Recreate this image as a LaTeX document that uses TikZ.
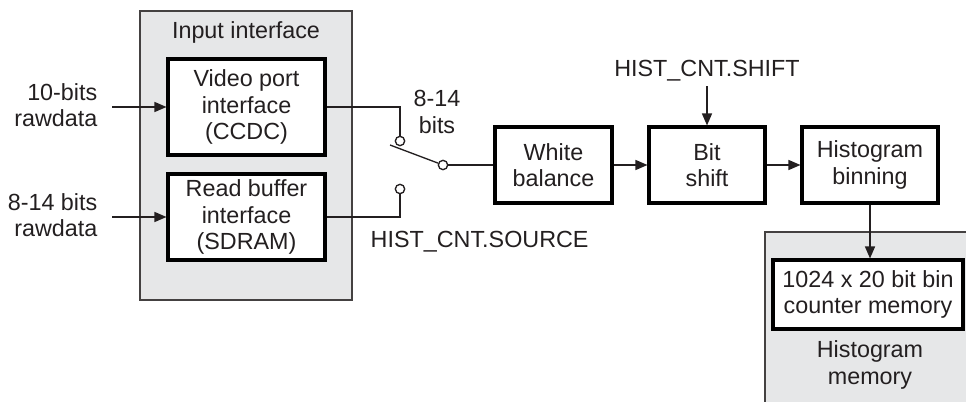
\documentclass[tikz,border=0pt]{standalone}
\usepackage{fontspec}
\setmainfont{Liberation Sans}
\usetikzlibrary{arrows.meta, positioning, calc}
\definecolor{panelgray}{HTML}{E6E7E8}
\definecolor{inkgray}{HTML}{231F20}

\begin{document}
\begin{tikzpicture}[
    x=0.75pt, y=-0.75pt,
    font=\fontsize{17.5}{20}\selectfont,
    every node/.style={text=inkgray},
    panel/.style={draw=inkgray!85, line width=1.5pt, fill=panelgray, inner sep=0pt},
    block/.style={draw=black, line width=2.3pt, fill=white, align=center, inner sep=0pt},
    wire/.style={draw=inkgray, line width=1pt},
    flow/.style={wire, -{Triangle[length=9pt, width=7.5pt]}},
    contact/.style={circle, draw=inkgray, line width=1pt, fill=white, inner sep=0pt, minimum size=7pt}
]
\useasboundingbox (0,0) rectangle (966,402);
\clip (0,0) rectangle (966,402);

% Input interface
\node[panel, minimum width=159pt, minimum height=216.75pt] (inif) at (246,155.5) {};
\node (inif-lbl) at (246,32) {Input interface};
\node[block, minimum width=117.75pt, minimum height=72pt] (vport) at (246.5,107) {Video port\\interface\\(CCDC)};
\node[block, minimum width=117.75pt, minimum height=64.5pt] (rbuf) at (246.5,217) {Read buffer\\interface\\(SDRAM)};

% Raw data inputs
\node[anchor=east, align=right] (raw1) at (102,105) {10-bits\\rawdata};
\node[anchor=east, align=right] (raw2) at (102,215) {8-14 bits\\rawdata};
\coordinate (raw1-in) at (112,107);
\coordinate (raw2-in) at (112,217);
\draw[flow] (raw1-in) -- (vport.west);
\draw[flow] (raw2-in) -- (rbuf.west);

% Source switch
\node[contact] (c1) at (400,141) {};
\node[contact] (c2) at (400,189) {};
\node[contact] (piv) at (443,165) {};
\coordinate (lever) at (390,145);
\draw[wire] (vport.east) -| (c1);
\draw[wire] (rbuf.east) -| (c2);
\draw[wire] (lever) -- (piv);
\node[align=center] (bits) at (437,112) {8-14\\bits};
\node[anchor=west] (src) at (366,242) {HIST\_CNT.SOURCE};

% Processing chain
\node[block, minimum width=87.75pt, minimum height=57pt] (wb) at (553.5,165) {White\\balance};
\node[block, minimum width=87pt, minimum height=57pt] (bs) at (707,165) {Bit\\shift};
\node[block, minimum width=102pt, minimum height=57pt] (hb) at (870,165) {Histogram\\binning};
\node (shift) at (707,71) {HIST\_CNT.SHIFT};
\draw[wire] (piv) -- (wb.west);
\draw[flow] (wb) -- (bs);
\draw[flow] (bs) -- (hb);
\draw[flow] (shift) -- (bs.north);

% Histogram memory
\node[panel, minimum width=165pt, minimum height=150pt, anchor=north west] (hmem) at (764,231) {};
\node[block, minimum width=142.5pt, minimum height=51.75pt] (bins) at (868,294.5) {1024 x 20 bit bin\\counter memory};
\node[align=center] (hmem-lbl) at (870,365) {Histogram\\memory};
\draw[flow] (hb.south) -- (hb.south |- bins.north);

\end{tikzpicture}
\end{document}
